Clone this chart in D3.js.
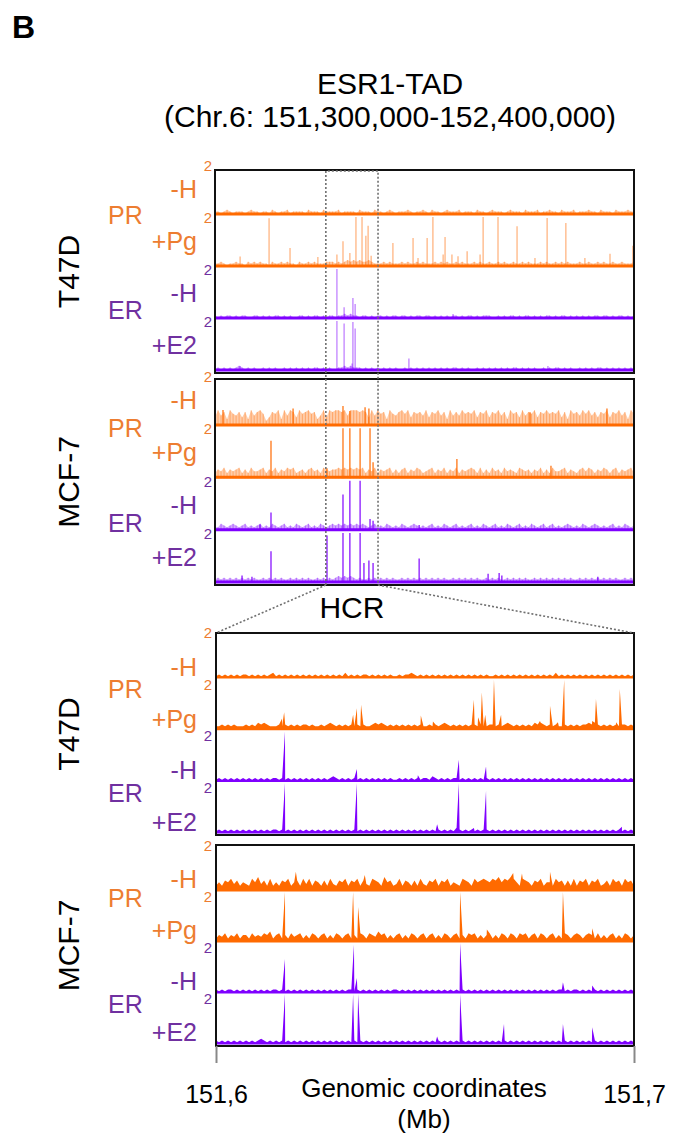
<!DOCTYPE html>
<html>
<head>
<meta charset="utf-8">
<script src="https://cdn.jsdelivr.net/npm/d3@7"></script>
<style>
  body { margin: 0; background: #fff; }
  svg { display: block; font-family: "Liberation Sans", Arial, sans-serif; }
</style>
</head>
<body>
<svg id="fig" width="674" height="1138"></svg>
<script>
// ---------------- data ----------------
const cellLines = ["T47D", "MCF-7"];
const receptors = ["PR", "ER"];
const conditions = [["-H", "+Pg"], ["-H", "+E2"]];
const trackMax = 2;                       // signal scale shown as "2" on each track
const tadRange = [151300, 152400];        // kb, ESR1-TAD view
const hcrRange = [151600, 151700];        // kb, HCR close-up
const hcrMark = [151591, 151728];         // kb, HCR window marked on the TAD view
const axisTicks = [151.6, 151.7];         // Mb
const bgUnit = 0.07;                      // signal per digit of the background strings

// Background signal, one digit per bin across the view (value = digit * bgUnit)
const tadT47D_PR_H  = "2212321222 1232212213 2122312222 1322213222 2312222132 2213221232 1222321223 2132212322 2312221322 1232221232 2213222312 2322132223 1222322132 2213222322";
const tadT47D_PR_Pg = "2232122322 1323232213 2232322132 2323222333 2323434343 3432223232 2232322323 2223232322 3232223232 2322323223 2232322232 3223232322 2322322323 2232232223";
const tadT47D_ER_H  = "2121221212 2112212121 2212121122 1212212122 1223232212 2121221212 2122121221 2212121212 2121221212 2211212122 1212212121 2212122121 2121212212 2121221212";
const tadT47D_ER_E2 = "1212121232 1212112121 2112121212 1212212121 1223232221 2121212121 2112121212 1212121212 2121211212 1212121212 2121212112 1212212121 1212121221 2121212121";
const tadMCF7_PR_H  = "5968497685 8496897358 7949698597 8978469598 9989699989 8596978497 6897958786 9587968496 8697879587 9587968497 8596879587 9787958497 8697968587 9587968497";
const tadMCF7_PR_Pg = "3546354563 5364456354 6354656345 3564536545 5656565656 3546354563 5356354653 4563546354 6354565363 5364536454 3654535463 5364456354 3564653546 5356354563";
const tadMCF7_ER_H  = "2243234323 4232342324 3234232432 3423243234 3434343434 3234232432 3243234323 2342324323 4232342324 3234232432 3423243234 2342323432 3243234323 2342324323";
const tadMCF7_ER_E2 = "2323232323 2323223232 3232232323 2322323232 3434343232 2323232323 2232323232 3232323223 2323232322 3232322323 2323223232 3232323232 2323232323 2323223232";

const hcrT47D_PR_H  = "1212121212 2121212123 1212121212 1212121212 1213121212 2121212121 1212232121 2121212121 2121212121 2112121212 1212121212 1213121212 1212121212 1212121212";
const hcrT47D_PR_Pg = "2232323222 3232434322 2323232323 3232232343 2323232323 2234343232 3232323232 2323234323 2323233232 2332323432 3232324343 2323223232 3233434323 2323233232";
const hcrT47D_ER_H  = "1212121212 1212121212 2121212121 2121212123 2121212121 2121212121 1212121212 2132121212 2121212121 2121212121 2121212121 2121212121 2121212121 2121212121";
const hcrT47D_ER_E2 = "1212121212 1212121212 2121212121 2121212121 2121212121 2121212121 2121212121 2121212121 3212121212 2121212121 2121212121 2121212121 2121212121 2121212121";
const hcrMCF7_PR_H  = "3536574635 4375846373 5365735637 4736536374 3657365736 4376538563 4736536374 3657365735 4376537567 6576857687 5376536573 5537563637 3657365734 6375637563";
const hcrMCF7_PR_Pg = "2435243524 4253435462 4524253452 4254245242 5424524254 2543645242 4524254245 2452425424 5242545242 4524254254 2545245254 2452425424 5424542524 2452425424";
const hcrMCF7_ER_H  = "2121221212 1212121212 2121212121 2121212121 2121221212 1212121212 2121212121 2121212121 2121212121 2121212121 2121212121 2121221212 2121212121 2121212121";
const hcrMCF7_ER_E2 = "2121212121 2121232121 2121212121 2121212121 2121212121 2121212121 2121212121 2121212121 2121212121 2121212121 2121212121 2121212121 2121212121 2121212121";

// Peaks: [position kb, signal]
const tadT47D_PR_H_peaks  = [];
const tadT47D_PR_Pg_peaks = [[151366,0.42],[151442,1.95],[151497,0.76],[151570,0.4],[151620,0.5],[151636,1.03],[151654,0.56],[151670,2.0],[151686,2.0],[151696,1.25],[151702,1.65],[151710,0.45],[151767,0.96],[151820,1.16],[151833,0.36],[151857,1.16],[151872,2.0],[151899,0.5],[151904,1.2],[151922,0.5],[151938,0.43],[151962,0.63],[151996,0.5],[152004,2.0],[152043,2.0],[152093,1.63],[152140,0.36],[152172,1.96],[152221,1.76],[152271,0.36],[152337,0.53],[152397,0.85]];
const tadT47D_ER_H_peaks  = [[151620,2.0],[151639,0.47],[151662,0.84],[151668,0.6],[151925,0.2]];
const tadT47D_ER_E2_peaks = [[151366,0.2],[151620,2.0],[151639,1.9],[151660,0.3],[151662,1.96],[151668,1.7],[151809,0.5],[152174,0.2]];
const tadMCF7_PR_H_peaks  = [[151321,0.64],[151505,0.7],[151636,0.8],[151654,0.6],[151694,0.75],[151704,0.7],[152127,0.55],[152329,0.7]];
const tadMCF7_PR_Pg_peaks = [[151447,1.5],[151594,0.4],[151636,2.0],[151654,2.0],[151681,2.0],[151707,2.0],[151715,0.64],[151935,0.77],[152182,0.5]];
const tadMCF7_ER_H_peaks  = [[151418,0.25],[151447,0.73],[151636,1.45],[151654,2.0],[151681,2.0],[151707,0.47],[151715,0.4],[151836,0.23]];
const tadMCF7_ER_E2_peaks = [[151371,0.3],[151397,0.25],[151447,1.27],[151594,1.9],[151636,2.0],[151654,2.0],[151681,2.0],[151691,0.8],[151704,0.9],[151715,0.8],[151836,0.98],[152017,0.37],[152046,0.4],[152053,0.3],[152305,0.25]];

const hcrT47D_PR_H_peaks  = [];
const hcrT47D_PR_Pg_peaks = [[151615.8,0.45],[151616.3,0.7],[151632.8,0.6],[151633.7,0.86],[151634.7,1.0],[151649.0,0.57],[151651.9,0.33],[151661.7,1.2],[151662.7,0.5],[151663.6,1.5],[151664.4,0.6],[151666.5,2.0],[151668.2,0.6],[151677.5,0.35],[151679.9,0.96],[151681.8,0.3],[151683.3,2.0],[151690.0,0.35],[151690.9,1.23],[151695.7,0.3],[151696.6,1.63]];
const hcrT47D_ER_H_peaks  = [[151616.5,2.0],[151633.7,0.5],[151648.3,0.25],[151658.1,0.87],[151664.6,0.6]];
const hcrT47D_ER_E2_peaks = [[151616.5,2.0],[151633.7,2.0],[151652.9,0.35],[151658.1,2.0],[151661.7,0.2],[151664.6,1.68],[151697.1,0.25]];
const hcrMCF7_PR_H_peaks  = [[151619.1,0.77],[151635.6,0.64],[151671.1,0.72],[151673.2,0.7],[151679.9,0.77]];
const hcrMCF7_PR_Pg_peaks = [[151616.5,2.0],[151632.8,2.0],[151634.0,1.4],[151658.4,2.0],[151664.8,0.5],[151683.0,2.0],[151690.0,0.55]];
const hcrMCF7_ER_H_peaks  = [[151616.5,1.36],[151633.0,1.93],[151633.7,0.6],[151658.4,2.0],[151683.0,0.43],[151690.0,0.3]];
const hcrMCF7_ER_E2_peaks = [[151616.5,2.0],[151632.8,2.0],[151634.0,2.0],[151652.9,0.3],[151658.4,2.0],[151668.9,0.8],[151683.0,0.8],[151690.0,0.67]];

// ---------------- layout ----------------
const ORANGE = "#FF6A00", PURPLE = "#7F00FF";
const ORANGE_TXT = "#ED7D31", PURPLE_TXT = "#7030A0";
const recColor = [ORANGE, PURPLE], recText = [ORANGE_TXT, PURPLE_TXT];

const svg = d3.select("#fig");
const xTad = d3.scaleLinear().domain(tadRange).range([215, 634]);
const xHcr = d3.scaleLinear().domain(hcrRange).range([216, 634]);

const signals = {
  tad: [[tadT47D_PR_H, tadT47D_PR_Pg, tadT47D_ER_H, tadT47D_ER_E2], [tadMCF7_PR_H, tadMCF7_PR_Pg, tadMCF7_ER_H, tadMCF7_ER_E2]],
  hcr: [[hcrT47D_PR_H, hcrT47D_PR_Pg, hcrT47D_ER_H, hcrT47D_ER_E2], [hcrMCF7_PR_H, hcrMCF7_PR_Pg, hcrMCF7_ER_H, hcrMCF7_ER_E2]]
};
const peakSets = {
  tad: [[tadT47D_PR_H_peaks, tadT47D_PR_Pg_peaks, tadT47D_ER_H_peaks, tadT47D_ER_E2_peaks], [tadMCF7_PR_H_peaks, tadMCF7_PR_Pg_peaks, tadMCF7_ER_H_peaks, tadMCF7_ER_E2_peaks]],
  hcr: [[hcrT47D_PR_H_peaks, hcrT47D_PR_Pg_peaks, hcrT47D_ER_H_peaks, hcrT47D_ER_E2_peaks], [hcrMCF7_PR_H_peaks, hcrMCF7_PR_Pg_peaks, hcrMCF7_ER_H_peaks, hcrMCF7_ER_E2_peaks]]
};
const trackList = (view, cell) => [0, 1, 2, 3].map(i => ({
  rec: i >> 1, cond: i & 1, bg: signals[view][cell][i], peaks: peakSets[view][cell][i]
}));

const panels = [
  { view: "tad", cell: 0, box: [170, 373], first: 215, step: 52,    lift: 17, groupDrop: [9, 0],   twoDrop: 6 },
  { view: "tad", cell: 1, box: [379, 585], first: 426, step: 52.33, lift: 17, groupDrop: [11, 1],  twoDrop: 6 },
  { view: "hcr", cell: 0, box: [633, 835], first: 678, step: 51.7,  lift: 2,  groupDrop: [20, 21], twoDrop: 10 },
  { view: "hcr", cell: 1, box: [845, 1046], first: 891, step: 51,   lift: 3,  groupDrop: [16, 20], twoDrop: 10 }
];

function parseBg(str, dom) {
  const digits = str.replace(/\s+/g, "").split("").map(Number);
  const n = digits.length;
  return digits.map((d, i) => [dom[0] + i * (dom[1] - dom[0]) / (n - 1), d * bgUnit]);
}

// ---------------- header ----------------
svg.append("text").attr("x", 12).attr("y", 38).attr("font-size", 32).attr("font-weight", "bold").text("B");
svg.append("text").attr("x", 390).attr("y", 94).attr("text-anchor", "middle").attr("font-size", 30).text("ESR1-TAD");
svg.append("text").attr("x", 390).attr("y", 127).attr("text-anchor", "middle").attr("font-size", 30).text("(Chr.6: 151,300,000-152,400,000)");

// ---------------- tracks ----------------
panels.forEach((p, pi) => {
  const xs = p.view === "tad" ? xTad : xHcr;
  const dom = xs.domain();
  const [rx0, rx1] = xs.range();
  const clipId = "clip" + pi;
  svg.append("clipPath").attr("id", clipId).append("rect")
    .attr("x", rx0).attr("y", p.box[0]).attr("width", rx1 - rx0).attr("height", p.box[1] - p.box[0]);
  const g = svg.append("g").attr("clip-path", `url(#${clipId})`);
  const tracks = trackList(p.view, p.cell);

  tracks.forEach((t, ti) => {
    const base = p.first + ti * p.step;
    const y = d3.scaleLinear().domain([0, trackMax]).range([base, base - 50]).clamp(true);
    const color = recColor[t.rec];
    const bg = parseBg(t.bg, dom);
    const area = d3.area().x(d => xs(d[0])).y0(base).y1(d => y(d[1])).curve(d3.curveLinear);

    if (p.view === "tad") {
      // translucent coverage: soft envelope plus one thin stroke per bin
      g.append("path").datum(bg).attr("d", area).attr("fill", color).attr("fill-opacity", 0.34);
      g.selectAll(null).data(bg).join("line")
        .attr("x1", d => xs(d[0])).attr("x2", d => xs(d[0]))
        .attr("y1", base).attr("y2", d => y(d[1]))
        .attr("stroke", color).attr("stroke-width", 1.1).attr("stroke-opacity", 0.35);
      g.selectAll(null).data(t.peaks).join("line")
        .attr("x1", d => xs(d[0])).attr("x2", d => xs(d[0]))
        .attr("y1", base).attr("y2", d => y(d[1]))
        .attr("stroke", color).attr("stroke-width", 1.6)
        .attr("stroke-opacity", p.cell === 0 ? 0.4 : 0.75);
      g.append("line").attr("x1", rx0).attr("x2", rx1).attr("y1", base - 1).attr("y2", base - 1)
        .attr("stroke", color).attr("stroke-width", 3);
    } else {
      const merged = bg.concat(t.peaks).sort((a, b) => a[0] - b[0]);
      g.append("path").datum(merged).attr("d", area).attr("fill", color);
      g.append("line").attr("x1", rx0).attr("x2", rx1).attr("y1", base - 0.5).attr("y2", base - 0.5)
        .attr("stroke", color).attr("stroke-width", 2);
    }

    // condition label and scale value
    svg.append("text").attr("x", 197).attr("y", base - p.lift).attr("text-anchor", "end")
      .attr("font-size", 25).attr("fill", recText[t.rec]).text(conditions[t.rec][t.cond]);
    svg.append("text").attr("x", 212).attr("y", base - 50 + p.twoDrop).attr("text-anchor", "end")
      .attr("font-size", 15).attr("fill", recText[t.rec]).text(trackMax);
  });

  // receptor labels
  [0, 1].forEach(r => {
    const base = p.first + (r * 2) * p.step;
    svg.append("text").attr("x", 108).attr("y", base + p.groupDrop[r])
      .attr("font-size", 25).attr("fill", recText[r]).text(receptors[r]);
  });

  // cell line label
  const cy = (p.box[0] + p.box[1]) / 2;
  svg.append("text").attr("transform", `translate(79,${cy}) rotate(-90)`)
    .attr("text-anchor", "middle").attr("font-size", 30).text(cellLines[p.cell]);

  // panel frame
  svg.append("rect").attr("x", rx0).attr("y", p.box[0]).attr("width", rx1 - rx0).attr("height", p.box[1] - p.box[0])
    .attr("fill", "none").attr("stroke", "#111").attr("stroke-width", 2);
});

// ---------------- HCR window ----------------
const hx0 = xTad(hcrMark[0]), hx1 = xTad(hcrMark[1]);
const dotted = { stroke: "#6f6f6f", "stroke-width": 1.6, "stroke-dasharray": "2,2", fill: "none" };
const dpath = svg.append("path").attr("d", `M${hx0},${panels[1].box[1]} V${panels[0].box[0] + 1} H${hx1} V${panels[1].box[1]}`);
const zl = svg.append("path").attr("d", `M${hx0},${panels[1].box[1]} L${xHcr.range()[0]},${panels[2].box[0]} M${hx1},${panels[1].box[1]} L${xHcr.range()[1]},${panels[2].box[0]}`);
[dpath, zl].forEach(s => Object.entries(dotted).forEach(([k, v]) => s.attr(k, v)));
svg.append("text").attr("x", (hx0 + hx1) / 2).attr("y", 618).attr("text-anchor", "middle").attr("font-size", 30).text("HCR");

// ---------------- axis ----------------
const axis = d3.axisBottom(d3.scaleLinear().domain(hcrRange.map(v => v / 1000)).range(xHcr.range()))
  .tickValues(axisTicks).tickSize(17).tickPadding(22)
  .tickFormat(d => d3.format(".1f")(d).replace(".", ","));
const ax = svg.append("g").attr("transform", `translate(0,${panels[3].box[1]})`).call(axis);
ax.select(".domain").remove();
ax.selectAll(".tick line").attr("stroke", "#888").attr("stroke-width", 2);
ax.selectAll(".tick text").attr("font-size", 25).attr("font-family", "Liberation Sans, Arial, sans-serif").attr("fill", "#000");

svg.append("text").attr("x", 424).attr("y", 1097).attr("text-anchor", "middle").attr("font-size", 26).text("Genomic coordinates");
svg.append("text").attr("x", 424).attr("y", 1128).attr("text-anchor", "middle").attr("font-size", 26).text("(Mb)");
</script>
</body>
</html>
